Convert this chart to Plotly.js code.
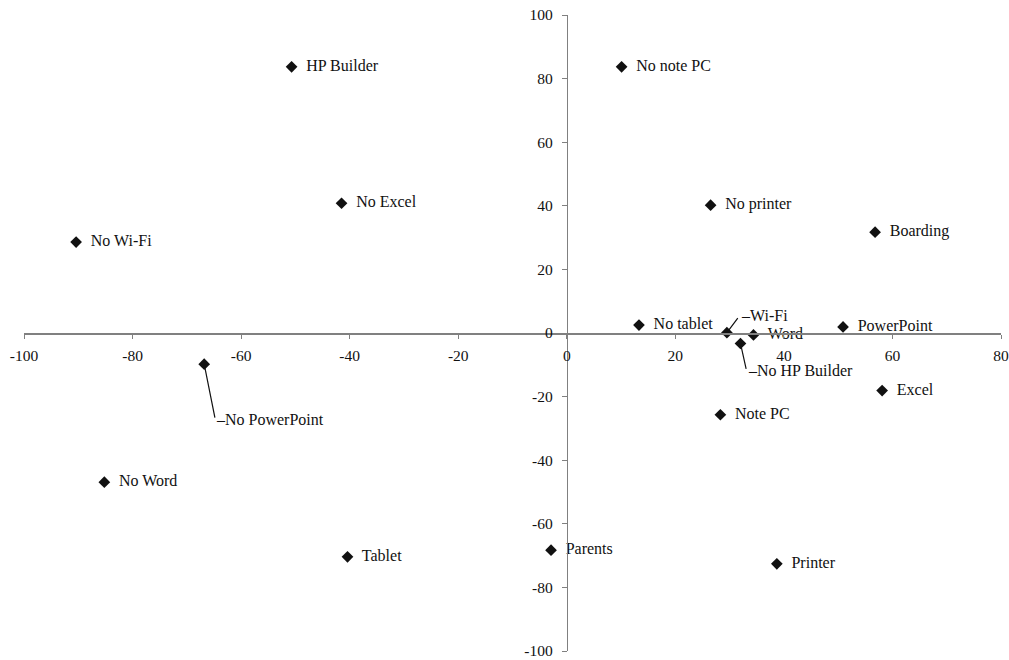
<!DOCTYPE html>
<html>
<head>
<meta charset="utf-8">
<script src="https://cdn.plot.ly/plotly-3.0.1.min.js"></script>
<style>html,body{margin:0;padding:0;background:#fff;}#chart{width:1009px;height:660px;}</style>
</head>
<body>
<div id="chart"></div>
<script>
// Category labels
const labels = ["HP Builder","No note PC","No Excel","No printer","No Wi-Fi","Boarding",
  "No tablet","Wi-Fi","Word","PowerPoint","No HP Builder","Excel","No PowerPoint",
  "Note PC","No Word","Tablet","Parents","Printer"];
// Dimension 1 (x) values
const xValues = [-50.7, 10.1, -41.5, 26.5, -90.4, 56.8,
  13.3, 29.5, 34.4, 50.9, 32.0, 58.1, -66.8,
  28.3, -85.2, -40.4, -2.9, 38.7];
// Dimension 2 (y) values
const yValues = [83.7, 83.7, 40.8, 40.2, 28.6, 31.7,
  2.5, 0.1, -0.6, 1.9, -3.3, -18.1, -9.8,
  -25.7, -46.9, -70.4, -68.3, -72.6];
// Labels drawn with leader lines
const leaderLabels = ["Wi-Fi","No HP Builder","No PowerPoint"];
const xTicks = [-100,-80,-60,-40,-20,0,20,40,60,80];
const yTicks = [-100,-80,-60,-40,-20,0,20,40,60,80,100];

const FONT = "Liberation Serif, Times New Roman, serif";

const textVals = labels.map(l => leaderLabels.includes(l) ? "" : "  " + l);

const trace = {
  x: xValues, y: yValues, text: textVals,
  mode: "markers+text", type: "scatter",
  textposition: "middle right",
  textfont: {family: FONT, size: 16, color: "#111"},
  marker: {symbol: "diamond", size: 9, color: "#111"},
  hoverinfo: "skip", cliponaxis: false
};

// leader offsets (pixels) [ax, ay] for elbow, and text shift
const leaderGeom = {
  "Wi-Fi": {ax: 12, ay: -16, tx: 13, ty: 17},
  "No HP Builder": {ax: 6, ay: 27, tx: 7, ty: -27},
  "No PowerPoint": {ax: 11, ay: 55, tx: 11, ty: -55}
};

const annotations = [];
leaderLabels.forEach(l => {
  const i = labels.indexOf(l);
  const g = leaderGeom[l];
  annotations.push({
    x: xValues[i], y: yValues[i], xref: "x", yref: "y",
    text: "", font: {size: 1},
    showarrow: true, arrowhead: 0, arrowwidth: 1.2, arrowcolor: "#111",
    ax: g.ax, ay: g.ay, standoff: 0, startstandoff: 0
  });
  annotations.push({
    x: xValues[i], y: yValues[i], xref: "x", yref: "y",
    text: "\u2013" + l, showarrow: false,
    xanchor: "left", yanchor: "middle",
    xshift: g.tx - 1, yshift: g.ty,
    font: {family: FONT, size: 16, color: "#111"}
  });
});

const layout = {
  width: 1009, height: 660,
  margin: {l: 24, r: 8, t: 15, b: 9},
  paper_bgcolor: "#fff", plot_bgcolor: "#fff",
  showlegend: false,
  font: {family: FONT, size: 15, color: "#111"},
  xaxis: {
    range: [-100, 80], tickvals: xTicks, ticktext: xTicks.map(String),
    anchor: "free", position: 0.5,
    showline: true, linecolor: "#808080", linewidth: 1.5,
    ticks: "outside", ticklen: 4, tickcolor: "#808080", tickwidth: 1,
    showgrid: false, zeroline: false,
    tickfont: {family: FONT, size: 15.5, color: "#111"},
    ticklabelstandoff: 4
  },
  yaxis: {
    range: [-100, 100], tickvals: yTicks, ticktext: yTicks.map(String),
    anchor: "free", position: 100/180,
    showline: true, linecolor: "#808080", linewidth: 1.5,
    ticks: "outside", ticklen: 5, tickcolor: "#808080", tickwidth: 1,
    showgrid: false, zeroline: false,
    tickfont: {family: FONT, size: 15.5, color: "#111"},
    ticklabelstandoff: 6
  },
  annotations: annotations
};

Plotly.newPlot("chart", [trace], layout, {displayModeBar: false, staticPlot: true});
</script>
</body>
</html>
